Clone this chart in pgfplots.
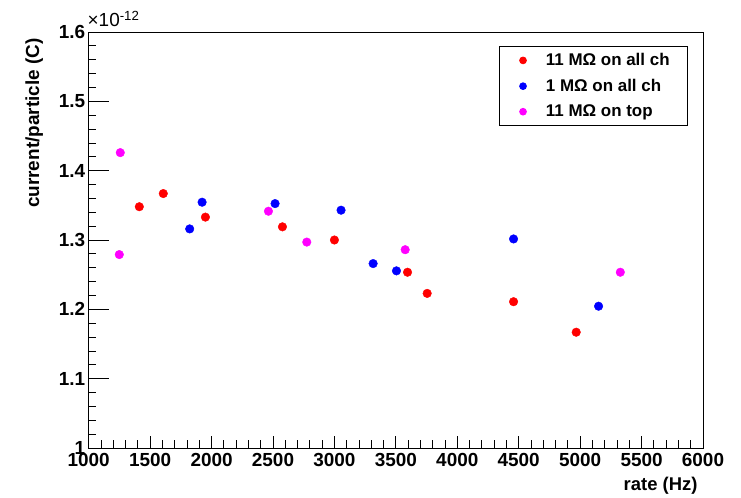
\documentclass[border=0pt]{standalone}
\usepackage{fontspec}
\setmainfont{Liberation Sans}
\usepackage{pgfplots}
\pgfplotsset{compat=1.18}
\definecolor{rootred}{RGB}{255,0,0}
\definecolor{rootblue}{RGB}{0,0,255}
\definecolor{rootmag}{RGB}{255,0,255}
\begin{document}
\begin{tikzpicture}
\useasboundingbox (0,0) rectangle (741bp,498bp);
\begin{axis}[
  at={(88.7bp,50bp)}, anchor=south west,
  scale only axis, width=614.3bp, height=416bp,
  xmin=1000, xmax=6000, ymin=1, ymax=1.6,
  xtick={1000,1500,2000,2500,3000,3500,4000,4500,5000,5500,6000},
  ytick={1,1.1,1.2,1.3,1.4,1.5,1.6},
  yticklabels={1,1.1,1.2,1.3,1.4,1.5,1.6},
  extra y ticks={1.1,1.2,1.3,1.4,1.5},
  extra y tick labels={},
  extra y tick style={major tick length=20bp},
  minor tick num=4,
  tick align=inside, xtick pos=left, ytick pos=left,
  major tick length=12bp, minor tick length=7.5bp,
  scaled ticks=false,
  /pgf/number format/assume math mode=true,
  /pgf/number format/set thousands separator={},
  ticklabel style={font=\fontsize{19}{22}\selectfont\bfseries},
  xticklabel style={yshift=-1.5bp},
  axis line style={line width=0.8bp},
  every tick/.style={black, line width=0.8bp},
  xlabel={rate (Hz)}, ylabel={current/particle (C)},
  xlabel style={at={(rel axis cs:0.9967,-0.103)}, anchor=base east, font=\fontsize{18.5}{22}\selectfont\bfseries},
  ylabel style={at={(rel axis cs:-0.0809,0.9928)}, anchor=base east, font=\fontsize{19}{22}\selectfont\bfseries},
  legend style={at={(0.9756,0.966)}, anchor=north east, draw=black, line width=0.8bp,
    font=\fontsize{17}{20}\selectfont\bfseries, row sep=8bp, inner xsep=16bp, inner ysep=5bp,
    /tikz/every odd column/.append style={column sep=17bp}},
  legend cell align=left,
  legend image code/.code={\path (-7bp,0bp) (3.5bp,0bp); \fill (0bp,0bp) circle (3.4bp);},
  clip=false,
]
\addplot[only marks, mark=*, mark size=4.3bp, color=rootred] coordinates {
(1412,1.348) (1607,1.367) (1950,1.333) (2577,1.319) (3000,1.300) (3595,1.2535) (3755,1.223) (4458,1.211) (4968,1.167)};
\addlegendentry{11 MΩ on all ch}
\addplot[only marks, mark=*, mark size=4.3bp, color=rootblue] coordinates {
(1822,1.316) (1923,1.3545) (2517,1.3525) (3054,1.343) (3315,1.266) (3505,1.2555) (4458,1.3015) (5150,1.2045)};
\addlegendentry{1 MΩ on all ch}
\addplot[only marks, mark=*, mark size=4.3bp, color=rootmag] coordinates {
(1249,1.279) (1257,1.426) (2463,1.3415) (2775,1.297) (3576,1.286) (5327,1.2535)};
\addlegendentry{11 MΩ on top}
\node[anchor=base west, font=\fontsize{19}{22}\selectfont, inner sep=0pt] at (rel axis cs:-0.002,1.0132) {×10\textsuperscript{-12}};
\end{axis}
\end{tikzpicture}
\end{document}
